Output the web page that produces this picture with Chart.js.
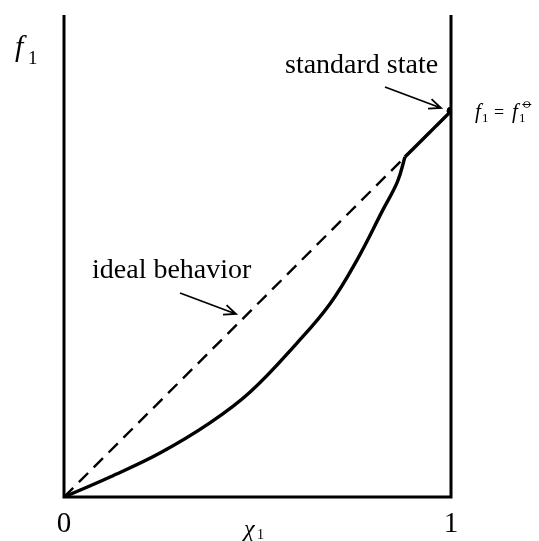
<!DOCTYPE html>
<html>
<head>
<meta charset="utf-8">
<script src="https://cdn.jsdelivr.net/npm/chart.js@4.4.0/dist/chart.umd.min.js"></script>
<style>
  html, body { margin: 0; padding: 0; background: #fff; }
  #wrap { width: 539px; height: 541px; }
</style>
</head>
<body>
<div id="wrap"><canvas id="fugacity"></canvas></div>
<script>
// mole fraction x1 and fugacity f1 (scaled so that f1 = 1 at the standard state)
const realX = [0, 0.119, 0.248, 0.377, 0.481, 0.602, 0.687, 0.757, 0.824, 0.862, 0.881];
const realF = [0, 0.052, 0.114, 0.192, 0.272, 0.399, 0.5, 0.614, 0.744, 0.818, 0.881];
// straight part of the curve close to pure component
const upperX = [0.881, 1];
const upperF = [0.881, 1];
// Raoult-type ideal line
const idealX = [0, 1];
const idealF = [0, 1];
const tickValues = [0, 1];
const tickLabels = ['0', '1'];
const stdState = { x: 1, y: 1 };

const serif = '"Liberation Serif", "DejaVu Serif", serif';

function arrow(ctx, x1, y1, x2, y2) {
  const a = Math.atan2(y2 - y1, x2 - x1);
  const h = 13;
  ctx.beginPath();
  ctx.moveTo(x1, y1);
  ctx.lineTo(x2, y2);
  ctx.moveTo(x2 - h * Math.cos(a - 0.4), y2 - h * Math.sin(a - 0.4));
  ctx.lineTo(x2, y2);
  ctx.lineTo(x2 - h * Math.cos(a + 0.4), y2 - h * Math.sin(a + 0.4));
  ctx.stroke();
}

const frameAndText = {
  id: 'frameAndText',
  afterDatasetsDraw(chart) {
    const { ctx, chartArea: a, scales: { x, y } } = chart;
    ctx.save();
    ctx.strokeStyle = '#000';
    ctx.fillStyle = '#000';
    ctx.lineWidth = 3;
    ctx.lineCap = 'butt';
    // left, bottom and right borders
    ctx.beginPath();
    ctx.moveTo(x.getPixelForValue(0), a.top);
    ctx.lineTo(x.getPixelForValue(0), y.getPixelForValue(0));
    ctx.lineTo(x.getPixelForValue(1), y.getPixelForValue(0));
    ctx.lineTo(x.getPixelForValue(1), a.top);
    ctx.stroke();

    // tick labels 0 and 1
    ctx.font = '29px ' + serif;
    ctx.textAlign = 'center';
    ctx.textBaseline = 'alphabetic';
    tickValues.forEach((v, i) => {
      ctx.fillText(tickLabels[i], x.getPixelForValue(v), y.getPixelForValue(0) + 35);
    });

    // axis titles
    ctx.textAlign = 'left';
    ctx.font = 'italic 24px ' + serif;
    ctx.fillText('\u03C7', 244, 536);
    ctx.font = '14px ' + serif;
    ctx.fillText('1', 257, 539);

    ctx.font = 'italic 30px ' + serif;
    ctx.fillText('f', 15, 56);
    ctx.font = '19px ' + serif;
    ctx.fillText('1', 28, 64);

    // annotations
    ctx.font = '28px ' + serif;
    ctx.fillText('standard state', 285, 73);
    ctx.fillText('ideal behavior', 92, 278);
    ctx.lineWidth = 1.8;
    arrow(ctx, 385, 87, 441, 108);
    arrow(ctx, 180, 293, 236, 314);

    // f1 = f1 at the standard state
    const px = x.getPixelForValue(stdState.x);
    const py = y.getPixelForValue(stdState.y);
    ctx.font = 'italic 21px ' + serif;
    ctx.fillText('f', px + 24, py + 7);
    ctx.font = '13px ' + serif;
    ctx.fillText('1', px + 31, py + 11);
    ctx.font = '18px ' + serif;
    ctx.fillText('=', px + 43, py + 7);
    ctx.font = 'italic 21px ' + serif;
    ctx.fillText('f', px + 61, py + 7);
    ctx.font = '13px ' + serif;
    ctx.fillText('1', px + 68, py + 11);
    ctx.font = '15px ' + serif;
    ctx.fillText('\u29B5', px + 70, py - 3);
    ctx.restore();
  }
};

new Chart(document.getElementById('fugacity'), {
  type: 'scatter',
  data: {
    datasets: [
      {
        label: 'ideal',
        data: idealX.map((v, i) => ({ x: v, y: idealF[i] })),
        showLine: true,
        borderColor: '#000',
        borderWidth: 2.4,
        borderDash: [13, 8],
        pointRadius: 0,
      },
      {
        label: 'real',
        data: realX.map((v, i) => ({ x: v, y: realF[i] })),
        showLine: true,
        borderColor: '#000',
        borderWidth: 3.4,
        tension: 0.4,
        pointRadius: 0,
      },
      {
        label: 'near pure',
        data: upperX.map((v, i) => ({ x: v, y: upperF[i] })),
        showLine: true,
        borderColor: '#000',
        borderWidth: 3.4,
        pointRadius: 0,
      },
      {
        label: 'standard state',
        data: [stdState],
        backgroundColor: '#000',
        borderColor: '#000',
        pointRadius: 4,
      },
    ],
  },
  options: {
    responsive: true,
    maintainAspectRatio: false,
    animation: false,
    layout: {
      padding: { left: 64, right: 88, top: 15, bottom: 44 },
    },
    plugins: {
      legend: { display: false },
      tooltip: { enabled: false },
    },
    scales: {
      x: { type: 'linear', min: 0, max: 1, display: false },
      y: { type: 'linear', min: 0, max: 1.249, display: false },
    },
  },
  plugins: [frameAndText],
});
</script>
</body>
</html>
